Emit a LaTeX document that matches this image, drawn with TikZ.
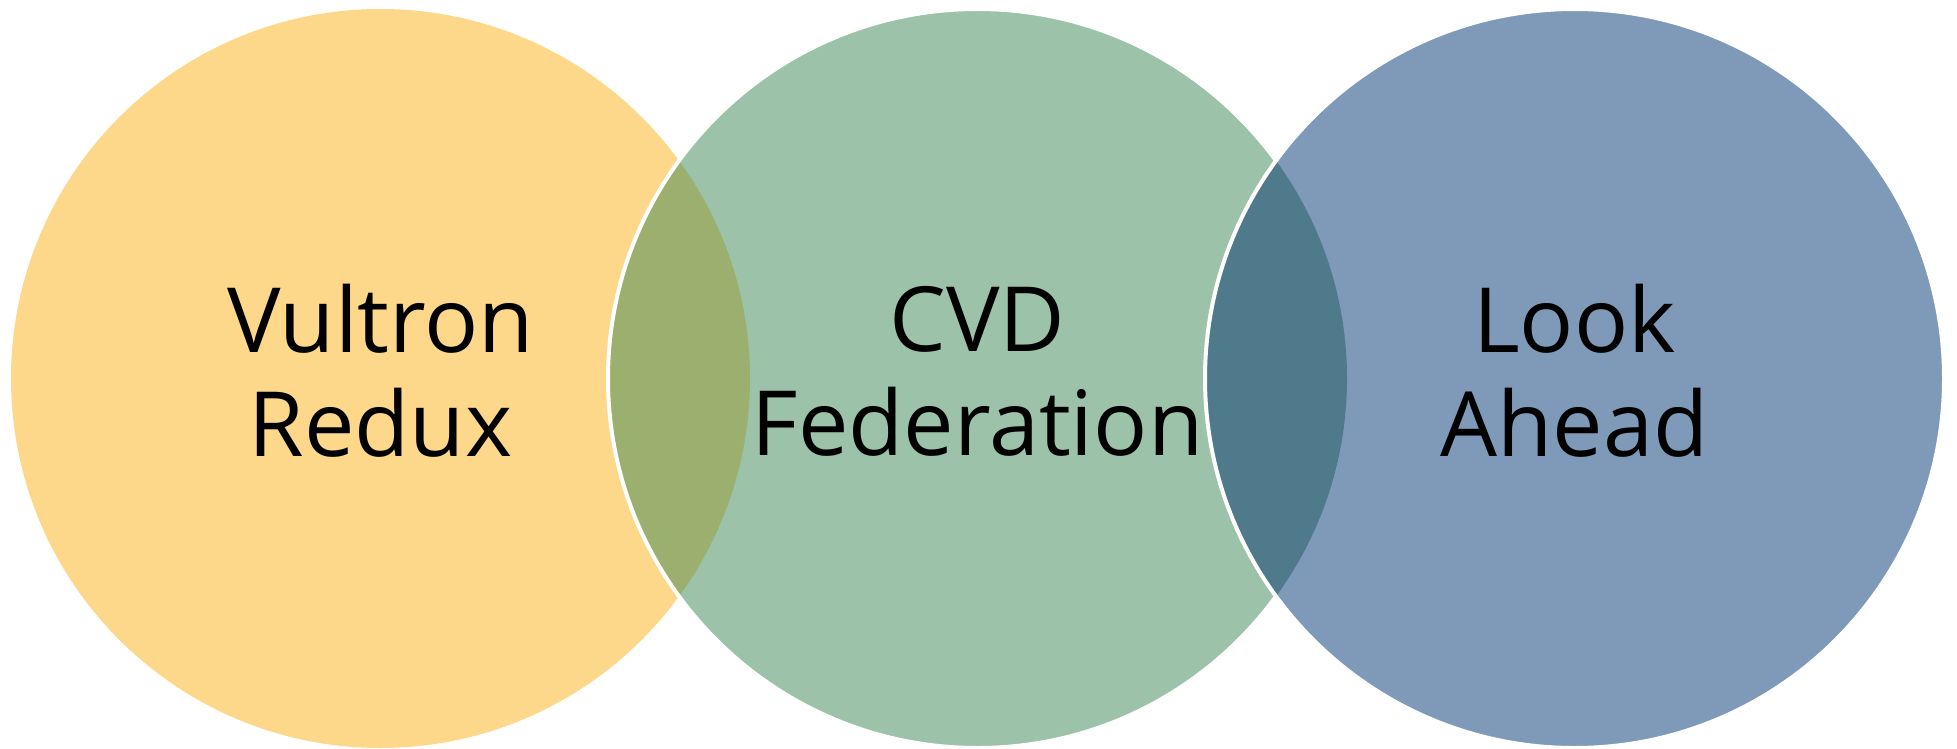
\documentclass[tikz,border=0pt]{standalone}
\usepackage{fontspec}
\setmainfont{Open Sans}
\usepackage{tikz}
\usetikzlibrary{positioning}
\definecolor{redux}{RGB}{253, 216, 138}
\definecolor{federation}{RGB}{156, 195, 169}
\definecolor{lookahead}{RGB}{127, 154, 184}
\definecolor{overlapone}{RGB}{155, 176, 111}
\definecolor{overlaptwo}{RGB}{78, 122, 139}

\begin{document}
\begin{tikzpicture}[x=1pt, y=-1pt]

    \tikzset{
        label/.style={align=center, text=black, font=\fontsize{90}{104}\selectfont},
        rim/.style={draw=white, line width=4pt}
    }

    \useasboundingbox (0, 0) rectangle (1957, 749);

    % ═══════════════════════════════════════════════════════════════════════════
    % CERCLE 1
    % ═══════════════════════════════════════════════════════════════════════════

    \fill[redux] (380.5, 378.5) circle (369.5);

    % ═══════════════════════════════════════════════════════════════════════════
    % CERCLE 2
    % ═══════════════════════════════════════════════════════════════════════════

    \fill[federation] (977.5, 378.5) circle (369.5);

    % Intersection 1-2
    \begin{scope}
        \clip (380.5, 378.5) circle (369.5);
        \fill[overlapone] (977.5, 378.5) circle (369.5);
    \end{scope}
    \draw[rim] (977.5, 378.5) circle (369.5);

    % ═══════════════════════════════════════════════════════════════════════════
    % CERCLE 3
    % ═══════════════════════════════════════════════════════════════════════════

    \fill[lookahead] (1574.5, 378.5) circle (369.5);

    % Intersection 2-3
    \begin{scope}
        \clip (977.5, 378.5) circle (369.5);
        \fill[overlaptwo] (1574.5, 378.5) circle (369.5);
    \end{scope}
    \draw[rim] (1574.5, 378.5) circle (369.5);

    % ═══════════════════════════════════════════════════════════════════════════
    % TEXTES
    % ═══════════════════════════════════════════════════════════════════════════

    \node[label] (vultron) at (380.5, 371) {Vultron\\Redux};
    \node[label] (cvd) at (977.5, 371) {CVD\\Federation};
    \node[label] (look) at (1574.5, 371) {Look\\Ahead};

\end{tikzpicture}
\end{document}
